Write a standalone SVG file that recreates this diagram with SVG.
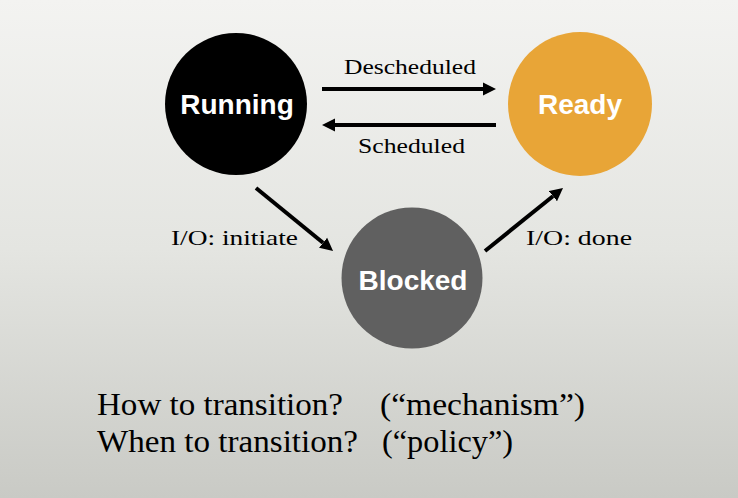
<svg xmlns="http://www.w3.org/2000/svg" width="738" height="498" viewBox="0 0 738 498">
  <defs>
    <linearGradient id="bg" x1="0" y1="0" x2="0" y2="1">
      <stop offset="0" stop-color="#f3f3f1"/>
      <stop offset="0.5" stop-color="#e4e5e1"/>
      <stop offset="1" stop-color="#c9cac5"/>
    </linearGradient>
    <marker id="ah" markerUnits="userSpaceOnUse" markerWidth="14" markerHeight="14" refX="0" refY="6.5" orient="auto" viewBox="0 0 14 13">
      <polygon points="0,0 13,6.5 0,13" fill="#000"/>
    </marker>
    <style>
      .edge { stroke: #000; stroke-width: 4; fill: none; marker-end: url(#ah); }
      .lbl { font-family: "Liberation Serif", "Times New Roman", serif; font-size: 22px; fill: #000; }
      .nl { font-family: "Liberation Sans", Arial, sans-serif; font-weight: bold; font-size: 28px; fill: #fff; text-anchor: middle; }
      .big { font-family: "Liberation Serif", "Times New Roman", serif; font-size: 32px; fill: #000; }
    </style>
  </defs>
  <rect width="738" height="498" fill="url(#bg)"/>

  <g id="connectors">
    <line class="edge" x1="322" y1="89" x2="483" y2="89"/>
    <line class="edge" x1="496" y1="125" x2="335" y2="125"/>
    <line class="edge" x1="256" y1="188" x2="323" y2="242.8"/>
    <line class="edge" x1="485" y1="251" x2="552.9" y2="196.2"/>
    <text class="lbl" x="344" y="74" textLength="132" lengthAdjust="spacingAndGlyphs">Descheduled</text>
    <text class="lbl" x="358" y="153" textLength="107" lengthAdjust="spacingAndGlyphs">Scheduled</text>
    <text class="lbl" x="171" y="245" textLength="127" lengthAdjust="spacingAndGlyphs">I/O: initiate</text>
    <text class="lbl" x="526" y="245" textLength="106" lengthAdjust="spacingAndGlyphs">I/O: done</text>
  </g>

  <g id="running">
    <circle cx="236" cy="104" r="71" fill="#000"/>
    <text class="nl" x="237" y="114">Running</text>
  </g>
  <g id="ready">
    <circle cx="580" cy="104" r="72" fill="#e8a537"/>
    <text class="nl" x="580" y="114">Ready</text>
  </g>
  <g id="blocked">
    <circle cx="412" cy="278" r="70.5" fill="#606060"/>
    <text class="nl" x="413" y="290">Blocked</text>
  </g>

  <g id="notes">
    <text class="big" x="97" y="415" textLength="246" lengthAdjust="spacingAndGlyphs">How to transition?</text>
    <text class="big" x="380" y="415" textLength="205" lengthAdjust="spacingAndGlyphs">(“mechanism”)</text>
    <text class="big" x="97" y="452" textLength="261" lengthAdjust="spacingAndGlyphs">When to transition?</text>
    <text class="big" x="382" y="452" textLength="131" lengthAdjust="spacingAndGlyphs">(“policy”)</text>
  </g>
</svg>
